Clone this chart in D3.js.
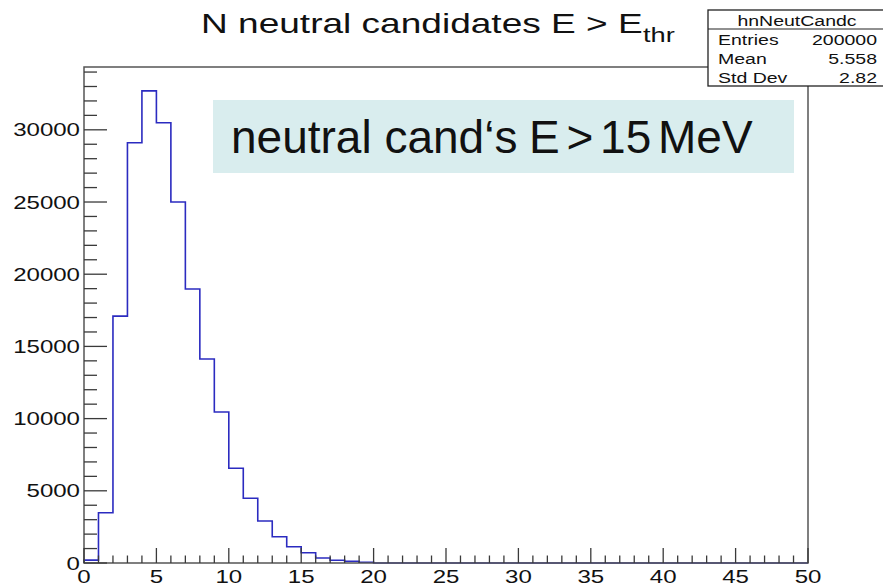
<!DOCTYPE html>
<html>
<head>
<meta charset="utf-8">
<script src="https://cdn.jsdelivr.net/npm/d3@7"></script>
<style>
  html, body { margin: 0; padding: 0; background: #fff; }
  svg { display: block; }
  text { font-family: "Liberation Sans", Arial, Helvetica, sans-serif; fill: #111; }
</style>
</head>
<body>
<svg id="chart" width="883" height="587"></svg>
<script>
// Histogram: number of neutral candidates per event, unit-width bins on [0, 50)
const binStart = 0;
const binWidth = 1;
const counts = [
  200, 3480, 17100, 29100, 32700, 30490, 25000, 18980, 14130, 10460,
  6560, 4480, 2910, 1820, 1130, 710, 350, 190, 120, 50,
  0, 0, 0, 0, 0, 0, 0, 0, 0, 0,
  0, 0, 0, 0, 0, 0, 0, 0, 0, 0,
  0, 0, 0, 0, 0, 0, 0, 0, 0, 0
];
const xDomain = [0, 50];
const yDomain = [0, 34350];
const xMajorTicks = [0, 5, 10, 15, 20, 25, 30, 35, 40, 45, 50];
const yMajorTicks = [0, 5000, 10000, 15000, 20000, 25000, 30000];
const xMinorStep = 1;
const yMinorStep = 1000;

const titleMain = "N neutral candidates E > E";
const titleSub = "thr";
const statsName = "hnNeutCandc";
const statsLabels = ["Entries", "Mean", "Std Dev"];
const statsValues = ["200000", "5.558", "2.82"];
const noteLead = "neutral cand\u2018s";
const noteCut = "E > 15 MeV";

const svg = d3.select("#chart");
const SX = 1.3; // horizontal glyph stretch of the canvas text

const frame = { left: 84, right: 808, top: 67, bottom: 563 };
const x = d3.scaleLinear().domain(xDomain).range([frame.left, frame.right]);
const y = d3.scaleLinear().domain(yDomain).range([frame.bottom, frame.top]);

function wideText(parent, px, py, str, size, anchor) {
  const g = parent.append("g").attr("transform", `translate(${px},${py}) scale(${SX},1)`);
  return g.append("text").attr("x", 0).attr("y", 0)
    .attr("font-size", size).attr("text-anchor", anchor || "start").text(str);
}

// Histogram outline
const pts = [[binStart, 0]];
counts.forEach((c, i) => {
  const lo = binStart + i * binWidth;
  pts.push([lo, c], [lo + binWidth, c]);
});
pts.push([xDomain[1], 0]);
const line = d3.line().x(d => x(d[0])).y(d => y(d[1]));
svg.append("path").attr("d", line(pts))
  .attr("fill", "none").attr("stroke", "#2b2bc0").attr("stroke-width", 1.6);

// Frame
const axisColor = "#3a3a3a";
svg.append("rect")
  .attr("x", frame.left).attr("y", frame.top)
  .attr("width", frame.right - frame.left).attr("height", frame.bottom - frame.top)
  .attr("fill", "none").attr("stroke", "#555").attr("stroke-width", 1.5);

// Y axis ticks (drawn inward)
const yMinor = d3.range(0, yDomain[1], yMinorStep);
svg.append("g").selectAll("line").data(yMinor).join("line")
  .attr("x1", frame.left).attr("x2", d => frame.left + (d % 5000 === 0 ? 23 : 13))
  .attr("y1", d => y(d)).attr("y2", d => y(d))
  .attr("stroke", axisColor).attr("stroke-width", 1.3);
yMajorTicks.forEach(v => wideText(svg, frame.left - 4, y(v) + 6.5, String(v), 18.5, "end"));

// X axis ticks (drawn inward)
const xMinor = d3.range(xDomain[0], xDomain[1] + 0.001, xMinorStep);
svg.append("g").selectAll("line").data(xMinor).join("line")
  .attr("x1", d => x(d)).attr("x2", d => x(d))
  .attr("y1", frame.bottom).attr("y2", d => frame.bottom - (d % 5 === 0 ? 15 : 7.5))
  .attr("stroke", axisColor).attr("stroke-width", 1.3);
xMajorTicks.forEach(v => wideText(svg, x(v), 583, String(v), 18.5, "middle"));

// Title
wideText(svg, 201, 33, titleMain, 28.5, "start");
wideText(svg, 643, 42, titleSub, 21, "start");

// Statistics box
const sb = { x: 708, y: 10, w: 185, h: 76, sep: 29 };
svg.append("rect").attr("x", sb.x).attr("y", sb.y).attr("width", sb.w).attr("height", sb.h)
  .attr("fill", "#fff").attr("stroke", "#222").attr("stroke-width", 1.3);
svg.append("line").attr("x1", sb.x).attr("x2", sb.x + sb.w)
  .attr("y1", sb.sep).attr("y2", sb.sep).attr("stroke", "#222").attr("stroke-width", 1.1);
wideText(svg, 797, 26, statsName, 15, "middle");
statsLabels.forEach((lab, i) => {
  const by = 45 + i * 19;
  wideText(svg, 718, by, lab, 15, "start");
  wideText(svg, 877, by, statsValues[i], 15, "end");
});

// Annotation panel
svg.append("rect").attr("x", 213).attr("y", 100).attr("width", 581).attr("height", 73)
  .attr("fill", "#d9edee");
svg.append("text").attr("x", 231).attr("y", 153).attr("font-size", 46).text(noteLead);
svg.append("text").attr("x", 529).attr("y", 153).attr("font-size", 46)
  .style("word-spacing", "-6px").text(noteCut);
</script>
</body>
</html>
